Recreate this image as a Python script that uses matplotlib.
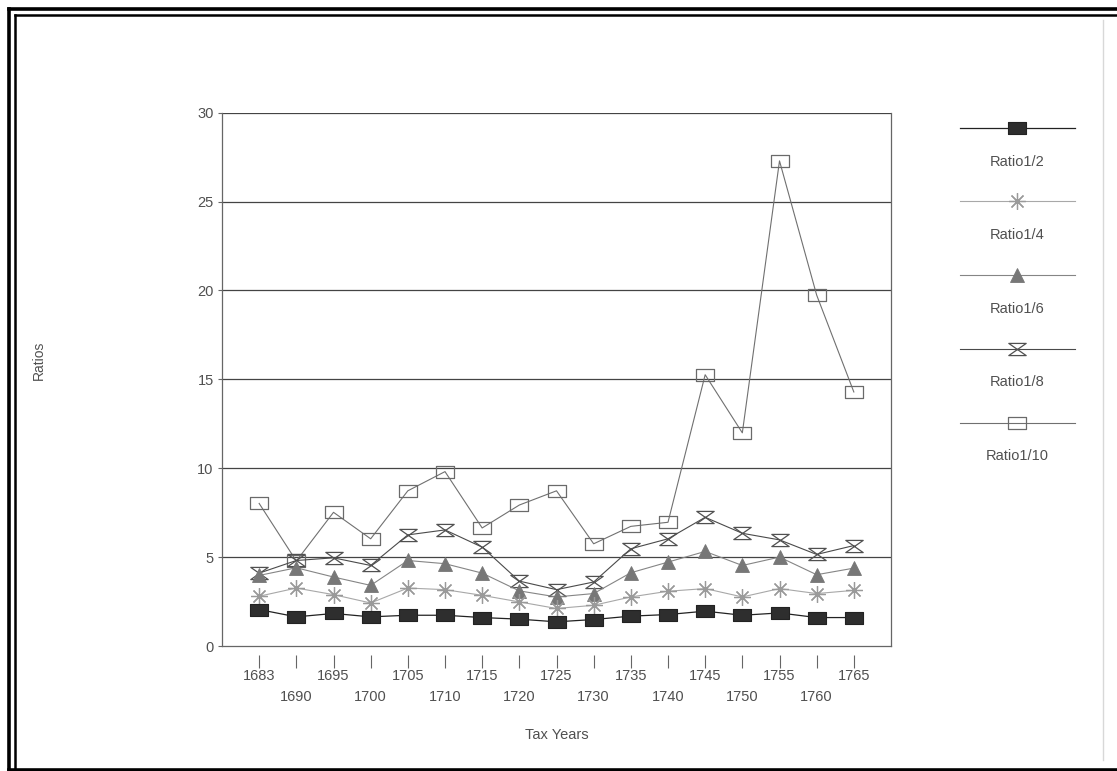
import matplotlib
matplotlib.use("Agg")
import matplotlib.pyplot as plt
from matplotlib.path import Path
import numpy as np

plt.rcParams['font.family'] = ['Liberation Sans', 'DejaVu Sans']

years = ["1683", "1690", "1695", "1700", "1705", "1710", "1715", "1720", "1725",
         "1730", "1735", "1740", "1745", "1750", "1755", "1760", "1765"]
ratio_1_2 = [2.05, 1.64, 1.83, 1.64, 1.73, 1.73, 1.60, 1.51, 1.36, 1.49, 1.68, 1.77, 1.96, 1.73, 1.86, 1.60, 1.60]
ratio_1_4 = [2.80, 3.26, 2.89, 2.42, 3.26, 3.17, 2.85, 2.48, 2.11, 2.29, 2.76, 3.08, 3.23, 2.76, 3.23, 2.95, 3.13]
ratio_1_6 = [3.97, 4.40, 3.88, 3.41, 4.81, 4.63, 4.10, 3.10, 2.76, 2.95, 4.12, 4.72, 5.32, 4.53, 5.00, 4.01, 4.38]
ratio_1_8 = [4.10, 4.81, 4.96, 4.53, 6.25, 6.53, 5.56, 3.65, 3.17, 3.60, 5.47, 6.03, 7.24, 6.34, 5.97, 5.15, 5.65]
ratio_1_10 = [8.02, 4.78, 7.52, 6.03, 8.73, 9.81, 6.64, 7.93, 8.73, 5.75, 6.73, 6.96, 15.26, 11.99, 27.29, 19.74, 14.29]
series_names = ["Ratio1/2", "Ratio1/4", "Ratio1/6", "Ratio1/8", "Ratio1/10"]
y_ticks = [0, 5, 10, 15, 20, 25, 30]

rect = Path([(-1, -0.72), (1, -0.72), (1, 0.72), (-1, 0.72), (-1, -0.72)],
            [Path.MOVETO, Path.LINETO, Path.LINETO, Path.LINETO, Path.CLOSEPOLY])
hourglass = Path([(-1, 0.7), (1, 0.7), (-1, -0.7), (1, -0.7), (-1, 0.7)],
                 [Path.MOVETO, Path.LINETO, Path.LINETO, Path.LINETO, Path.CLOSEPOLY])

styles = [
    dict(color='#222222', lw=0.9, marker=rect, ms=12.5, mfc='#2e2e2e', mec='#222222', mew=0.8),
    dict(color='#a8a8a8', lw=0.8, marker=(8, 2, 0), ms=12, mfc='none', mec='#9a9a9a', mew=0.9),
    dict(color='#858585', lw=0.8, marker='^', ms=10, mfc='#777777', mec='#777777', mew=0.6),
    dict(color='#4a4a4a', lw=0.8, marker=hourglass, ms=12.5, mfc='none', mec='#505050', mew=0.9),
    dict(color='#707070', lw=0.8, marker=rect, ms=12.5, mfc='none', mec='#6a6a6a', mew=0.9),
]
data = [ratio_1_2, ratio_1_4, ratio_1_6, ratio_1_8, ratio_1_10]

W, H = 1117, 771
fig = plt.figure(figsize=(W / 100, H / 100), dpi=100)
fig.patch.set_facecolor('white')

l, r, t, b = 222, 891, 112.7, 646
ax = fig.add_axes([l / W, 1 - b / H, (r - l) / W, (b - t) / H])
x = np.arange(len(years))
for i in [4, 3, 2, 1, 0]:
    ax.plot(x, data[i], zorder=3 + (4 - i), **styles[i])

ax.set_xlim(-1, 17)
ax.set_ylim(0, 30)
ax.set_yticks(y_ticks)
ax.set_yticklabels([str(v) for v in y_ticks])
for v in y_ticks[1:]:
    ax.axhline(v, color='#444444', lw=0.9, zorder=1)
for s in ['left', 'bottom', 'right', 'top']:
    ax.spines[s].set_color('#666666')
    ax.spines[s].set_linewidth(0.9)
ax.spines['top'].set_visible(False)
ax.tick_params(axis='y', length=3, width=0.8, color='#666666', pad=3,
               labelsize=10.5, labelcolor='#505050')
ax.set_xticks([])
ax.set_ylabel("Ratios", fontsize=10, color='#505050')
ax.yaxis.set_label_coords((46 - l) / (r - l), (b - 360) / (b - t))

sec = ax.secondary_xaxis(-9 / (b - t))
sec.spines['bottom'].set_visible(False)
labels = [y if k % 2 == 0 else "\n" + y for k, y in enumerate(years)]
sec.set_xticks(x, labels)
sec.tick_params(axis='x', length=9, width=0.8, color='#666666', pad=1,
                labelsize=10.5, labelcolor='#505050')
for lab in sec.get_xticklabels():
    lab.set_linespacing(1.65)
    lab.set_verticalalignment('top')
ax.set_xlabel("Tax Years", fontsize=10.5, color='#505050')
ax.xaxis.set_label_coords((557 - l) / (r - l), (b - 735) / (b - t))
ax.xaxis.label.set_verticalalignment('center')

# legend panel (line above label)
lx0, lx1, ly0, ly1 = 950, 1090, 100, 480
lax = fig.add_axes([lx0 / W, 1 - ly1 / H, (lx1 - lx0) / W, (ly1 - ly0) / H])
lax.set_xlim(lx0, lx1)
lax.set_ylim(ly1, ly0)
lax.axis('off')
leg_line_y = [128, 201, 275, 349, 423]
leg_text_y = [162, 235, 309, 382, 456]
for i, name in enumerate(series_names):
    st = styles[i]
    lax.plot([960, 1075], [leg_line_y[i]] * 2, color=st['color'], lw=st['lw'])
    lax.plot([1017], [leg_line_y[i]], ls='none', marker=st['marker'], ms=st['ms'],
             mfc=st['mfc'], mec=st['mec'], mew=st['mew'])
    lax.text(1017, leg_text_y[i], name, ha='center', va='center', fontsize=10.5, color='#505050')

# outer double frame
fa = fig.add_axes([0, 0, 1, 1], zorder=-1)
fa.set_xlim(0, W)
fa.set_ylim(H, 0)
fa.axis('off')
fa.plot([9, 9], [9, H], color='black', lw=2.6)
fa.plot([9, W], [9, 9], color='black', lw=2.6)
fa.plot([14.5, 14.5], [14.5, H], color='black', lw=1.8)
fa.plot([14.5, W], [14.5, 14.5], color='black', lw=1.8)
fa.plot([9, W], [769.5, 769.5], color='black', lw=2.6)
fa.plot([1103, 1103], [20, 760], color='#d8d8d8', lw=1.0)

fig.savefig("out.png", dpi=100, facecolor='white')
